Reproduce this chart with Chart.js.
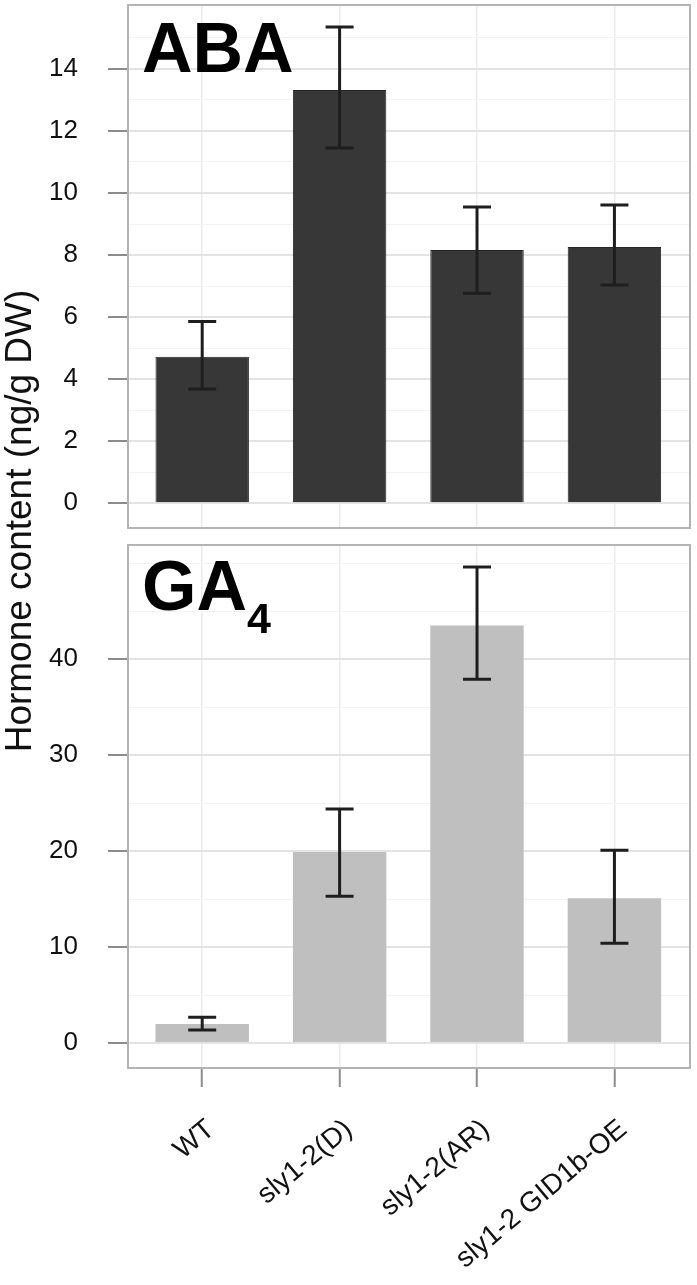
<!DOCTYPE html>
<html>
<head>
<meta charset="utf-8">
<title>Hormone content</title>
<script src="https://cdn.jsdelivr.net/npm/chart.js@4/dist/chart.umd.min.js"></script>
<style>
  html, body { margin: 0; padding: 0; background: #fff; }
  #page { position: relative; width: 697px; height: 1285px; overflow: hidden; }
  canvas { position: absolute; left: 0; }
  #chart--aba { top: 0; }
  #chart--ga4 { top: 535px; }
  #yTitle {
    position: absolute; left: -231px; top: 501px; width: 500px; height: 40px;
    line-height: 40px; text-align: center; transform: rotate(-90deg);
    font-family: "Liberation Sans", Arial, sans-serif; font-size: 37px; color: #111;
  }
</style>
</head>
<body>
<div id="page">
  <canvas id="chart--aba" width="697" height="540"></canvas>
  <canvas id="chart--ga4" width="697" height="750"></canvas>
  <div id="yTitle">Hormone content (ng/g DW)</div>
</div>
<script>
"use strict";
// values
const categories = ['WT', 'sly1-2(D)', 'sly1-2(AR)', 'sly1-2 GID1b-OE'];
const abaMean = [4.72, 13.32, 8.16, 8.26];
const abaLow = [3.68, 11.45, 6.77, 7.03];
const abaHigh = [5.86, 15.35, 9.55, 9.61];
const ga4Mean = [1.98, 19.9, 43.5, 15.1];
const ga4Low = [1.35, 15.3, 37.9, 10.4];
const ga4High = [2.7, 24.4, 49.6, 20.1];
const abaTicks = [0, 1, 2, 3, 4, 5, 6, 7, 8, 9, 10, 11, 12, 13, 14, 15];
const ga4Ticks = [0, 5, 10, 15, 20, 25, 30, 35, 40, 45, 50];

(() => {
    const fontFamily = '"Liberation Sans", Arial, sans-serif';
    Chart.defaults.font.family = fontFamily;

    const errorBarPlugin = {
        id: 'errorBars',
        afterDatasetsDraw(chart, args, opts) {
            const ctx = chart.ctx;
            const xScale = chart.scales.x;
            const yScale = chart.scales.y;
            ctx.save();
            ctx.strokeStyle = opts.color;
            ctx.lineWidth = 3;
            opts.low.forEach((low, i) => {
                const px = xScale.getPixelForValue(i + 1);
                const yLow = yScale.getPixelForValue(low);
                const yHigh = yScale.getPixelForValue(opts.high[i]);
                ctx.beginPath();
                ctx.moveTo(px, yLow);
                ctx.lineTo(px, yHigh);
                ctx.moveTo(px - 14, yLow);
                ctx.lineTo(px + 14, yLow);
                ctx.moveTo(px - 14, yHigh);
                ctx.lineTo(px + 14, yHigh);
                ctx.stroke();
            });
            ctx.restore();
        }
    };

    // panel frame + big label in the upper left corner
    const panelPlugin = {
        id: 'panel',
        afterDraw(chart, args, opts) {
            const ctx = chart.ctx;
            const area = chart.chartArea;
            ctx.save();
            ctx.strokeStyle = '#b4b4b4';
            ctx.lineWidth = 2;
            ctx.strokeRect(area.left, area.top, area.right - area.left, area.bottom - area.top);
            ctx.fillStyle = '#000';
            ctx.textBaseline = 'alphabetic';
            ctx.font = `bold 70px ${fontFamily}`;
            const x = area.left + 14;
            const y = area.top + opts.baseline;
            ctx.fillText(opts.text, x, y);
            if (opts.sub) {
                const w = ctx.measureText(opts.text).width;
                ctx.font = `bold 43px ${fontFamily}`;
                ctx.fillText(opts.sub, x + w, y + 23);
            }
            ctx.restore();
        }
    };

    function dropPadding(scale) {
        scale.paddingTop = 0;
        scale.paddingBottom = 0;
        scale.paddingLeft = 0;
        scale.paddingRight = 0;
    }

    function buildXScale(showLabels) {
        return {
            type: 'linear',
            min: 0.46,
            max: 4.55,
            offset: false,
            afterBuildTicks: (scale) => {
                scale.ticks = categories.map((c, i) => ({ value: i + 1 }));
            },
            afterFit: (scale) => {
                scale.height = showLabels ? 217 : 12;
                dropPadding(scale);
            },
            border: { display: false },
            grid: {
                offset: false,
                color: '#ebebeb',
                lineWidth: 1.5,
                drawTicks: showLabels,
                tickLength: 19,
                tickColor: '#8c8c8c',
                tickWidth: 2
            },
            ticks: {
                display: showLabels,
                autoSkip: false,
                minRotation: 40,
                maxRotation: 40,
                padding: 26,
                labelOffset: 9,
                color: '#111',
                font: { size: 28 },
                callback: (value) => categories[value - 1]
            }
        };
    }

    function buildYScale(min, max, tickValues, isMajor) {
        return {
            type: 'linear',
            min,
            max,
            afterBuildTicks: (scale) => {
                scale.ticks = tickValues.map((v) => ({ value: v }));
            },
            afterFit: (scale) => {
                scale.width = 128;
                dropPadding(scale);
            },
            border: { display: false },
            grid: {
                color: (ctx) => (isMajor(ctx.tick.value) ? '#e3e3e3' : '#f3f3f3'),
                lineWidth: (ctx) => (isMajor(ctx.tick.value) ? 2 : 1),
                tickLength: 20,
                tickColor: (ctx) => (isMajor(ctx.tick.value) ? '#8c8c8c' : 'rgba(0,0,0,0)'),
                tickWidth: 2
            },
            ticks: {
                autoSkip: false,
                padding: 30,
                color: '#111',
                font: { size: 26 },
                callback: (value) => (isMajor(value) ? value : '')
            }
        };
    }

    function makeChart(canvasId, opts) {
        return new Chart(document.querySelector(canvasId), {
            type: 'bar',
            data: {
                datasets: [{
                    data: opts.values.map((v, i) => ({ x: i + 1, y: v })),
                    backgroundColor: opts.fill,
                    borderColor: opts.edge,
                    borderWidth: opts.edgeWidth,
                    categoryPercentage: 1,
                    barPercentage: 0.68
                }]
            },
            options: {
                responsive: false,
                animation: false,
                devicePixelRatio: 1,
                layout: { padding: opts.padding },
                plugins: {
                    legend: { display: false },
                    tooltip: { enabled: false },
                    errorBars: { low: opts.low, high: opts.high, color: '#1e1e1e' },
                    panel: { text: opts.label, sub: opts.sub, baseline: opts.baseline }
                },
                scales: {
                    x: buildXScale(opts.showLabels),
                    y: buildYScale(opts.min, opts.max, opts.ticks, opts.isMajor)
                }
            },
            plugins: [errorBarPlugin, panelPlugin]
        });
    }

    makeChart('#chart--aba', {
        values: abaMean, low: abaLow, high: abaHigh,
        fill: '#373737', edge: '#262626', edgeWidth: 1,
        label: 'ABA', sub: '', baseline: 67,
        min: -0.8, max: 16.06, ticks: abaTicks,
        isMajor: (v) => v % 2 === 0 && v <= 14,
        showLabels: false,
        padding: { top: 5, right: 7, bottom: 0, left: 0 }
    });

    makeChart('#chart--ga4', {
        values: ga4Mean, low: ga4Low, high: ga4High,
        fill: '#bfbfbf', edge: '#bfbfbf', edgeWidth: 0,
        label: 'GA', sub: '4', baseline: 65,
        min: -2.6, max: 51.9, ticks: ga4Ticks,
        isMajor: (v) => v % 10 === 0 && v <= 40,
        showLabels: true,
        padding: { top: 10, right: 7, bottom: 0, left: 0 }
    });
})();
</script>
</body>
</html>
